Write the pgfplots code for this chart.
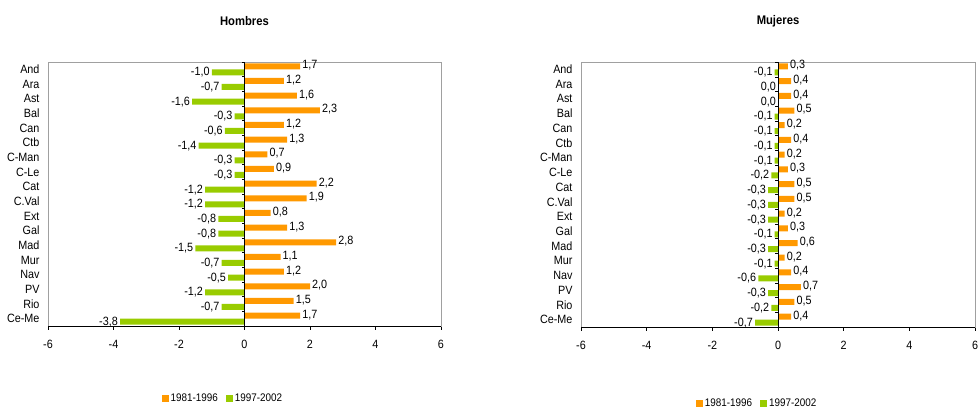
\documentclass[border=0pt]{standalone}
\usepackage{fontspec}
\setmainfont{Liberation Sans}[FakeStretch=0.9]
\usepackage{pgfplots}
\pgfplotsset{compat=1.18}
\usepackage{pgfplotstable}
\definecolor{orng}{HTML}{FF9900}
\definecolor{grn}{HTML}{99CC00}
\definecolor{frame}{HTML}{A0A0A0}

\pgfplotstableread{
y a b
17 1.7 -1.0
16 1.2 -0.7
15 1.6 -1.6
14 2.3 -0.3
13 1.2 -0.6
12 1.3 -1.4
11 0.7 -0.3
10 0.9 -0.3
9 2.2 -1.2
8 1.9 -1.2
7 0.8 -0.8
6 1.3 -0.8
5 2.8 -1.5
4 1.1 -0.7
3 1.2 -0.5
2 2.0 -1.2
1 1.5 -0.7
0 1.7 -3.8
}\hombres

\pgfplotstableread{
y a b
17 0.3 -0.1
16 0.4 0.0
15 0.4 0.0
14 0.5 -0.1
13 0.2 -0.1
12 0.4 -0.1
11 0.2 -0.1
10 0.3 -0.2
9 0.5 -0.3
8 0.5 -0.3
7 0.2 -0.3
6 0.3 -0.1
5 0.6 -0.3
4 0.2 -0.1
3 0.4 -0.6
2 0.7 -0.3
1 0.5 -0.2
0 0.4 -0.7
}\mujeres

\newcommand{\fs}{\fontsize{12}{13}\selectfont}
\newcommand{\fl}{\fontsize{11}{12}\selectfont}

\pgfplotsset{
  mystyle/.style={
    scale only axis,
    xbar, bar width=6pt,
    xmin=-6, xmax=6, xtick={-6,-4,...,6},
    ymin=-0.5, ymax=17.5,
    ytick={0,...,17},
    yticklabels={Ce-Me,Rio,PV,Nav,Mur,Mad,Gal,Ext,C.Val,Cat,C-Le,C-Man,Ctb,Can,Bal,Ast,Ara,And},
    ytick style={draw=none},
    xtick pos=bottom, xtick align=outside, major tick length=4pt,
    xtick style={black, thin},
    axis line style={frame},
    tick label style={font=\fs},
    xticklabel style={yshift=-7pt},
    yticklabel style={xshift=-1pt},
    /pgf/number format/assume math mode=true,
    nodes near coords={\pgfmathprintnumber[use comma,fixed,fixed zerofill,precision=1,assume math mode=true]{\pgfplotspointmeta}},
    nodes near coords style={font=\fs, inner sep=2pt, text=black},
    title style={font=\bfseries\fontsize{12.5}{14}\selectfont, anchor=center, yshift=0pt},
    legend style={draw=none, font=\fl, legend columns=2, anchor=center,
      /tikz/every even column/.append style={column sep=6pt}},
    legend image code/.code={\fill[##1] (0pt,-3.5pt) rectangle (7pt,3.5pt);},
    clip=false,
  }
}

\begin{document}
\begin{tikzpicture}
\useasboundingbox (0,0) rectangle (978pt,409pt);

\begin{axis}[mystyle, at={(48pt,83pt)}, anchor=south west,
    width=393pt, height=264pt,
    title={Hombres}, title style={at={(0.5,1.132)}},
    legend style={at={(0.445,-0.273)}}]
\addplot+[draw=none, fill=orng, bar shift=3pt,
  every node near coord/.append style={anchor=west, yshift=1pt}] table[x=a, y=y] {\hombres};
\addplot+[draw=none, fill=grn, bar shift=-3pt,
  every node near coord/.append style={anchor=east}] table[x=b, y=y] {\hombres};
\legend{1981-1996,1997-2002}
\draw[black] (axis cs:-6,-0.5) -- (axis cs:6,-0.5);
\draw[black] (axis cs:0,-0.5) -- (axis cs:0,17.5);
\pgfplotsinvokeforeach{-0.5,0.5,...,17.5}{\draw[black] (axis cs:0,#1) -- ++(-3pt,0pt);}
\end{axis}

\begin{axis}[mystyle, at={(581pt,82pt)}, anchor=south west,
    width=394pt, height=265pt,
    title={Mujeres}, title style={at={(0.5,1.131)}},
    legend style={at={(0.447,-0.29)}}]
\addplot+[draw=none, fill=orng, bar shift=3pt,
  every node near coord/.append style={anchor=west, yshift=1pt}] table[x=a, y=y] {\mujeres};
\addplot+[draw=none, fill=grn, bar shift=-3pt,
  every node near coord/.append style={anchor=east}] table[x=b, y=y] {\mujeres};
\legend{1981-1996,1997-2002}
\draw[black] (axis cs:-6,-0.5) -- (axis cs:6,-0.5);
\draw[black] (axis cs:0,-0.5) -- (axis cs:0,17.5);
\pgfplotsinvokeforeach{-0.5,0.5,...,17.5}{\draw[black] (axis cs:0,#1) -- ++(-3pt,0pt);}
\end{axis}
\end{tikzpicture}
\end{document}
